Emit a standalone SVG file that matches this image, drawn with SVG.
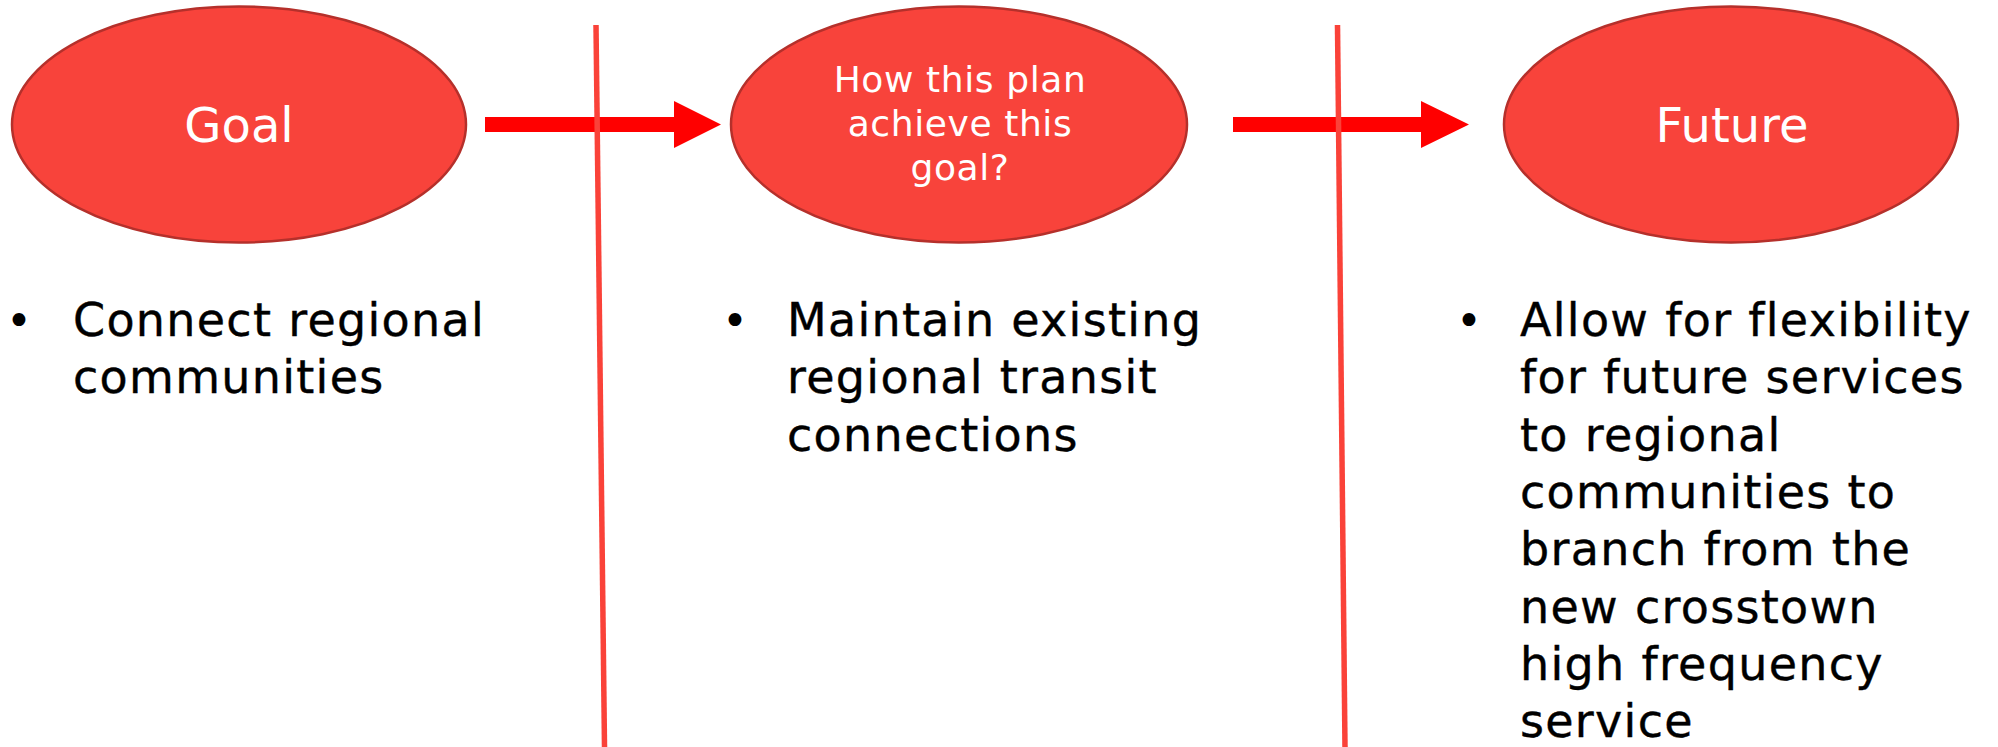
<svg xmlns="http://www.w3.org/2000/svg" width="1998" height="747" viewBox="0 0 1998 747">
  <style>
    .bubble { fill: #F8433B; stroke: #B5302B; stroke-width: 2.5; }
    .bubble-label { font-family: "DejaVu Sans", "Open Sans", sans-serif; fill: #FFFFFF; text-anchor: middle; }
    .big { font-size: 48px; }
    .small { font-size: 36px; letter-spacing: 0.6px; }
    .point { font-family: "DejaVu Sans", "Open Sans", sans-serif; font-size: 46px; fill: #000000; stroke: #000000; stroke-width: 0.4px; letter-spacing: 1.3px; }
    .dot { font-family: "DejaVu Sans", sans-serif; font-size: 44px; fill: #000000; text-anchor: middle; }
    .flow { fill: #FF0000; }
    .divider { stroke: #FA4239; stroke-width: 5.5; fill: none; }
  </style>

  <rect width="1998" height="747" fill="#FFFFFF"/>

  <!-- flow arrows between the stages -->
  <g id="connectors">
    <polygon class="flow" points="485,117 674,117 674,101 721,124.5 674,148 674,132 485,132"/>
    <polygon class="flow" points="1233,117 1421,117 1421,101 1469,124.5 1421,148 1421,132 1233,132"/>
  </g>

  <!-- column separators -->
  <g id="separators">
    <line class="divider" x1="596" y1="25" x2="604.5" y2="747"/>
    <line class="divider" x1="1337.5" y1="25" x2="1345" y2="747"/>
  </g>

  <g id="node-goal">
    <ellipse class="bubble" cx="239" cy="124.5" rx="227" ry="118"/>
    <text class="bubble-label big" x="239" y="142">Goal</text>
  </g>

  <g id="node-how">
    <ellipse class="bubble" cx="959" cy="124.5" rx="228" ry="118"/>
    <text class="bubble-label small" x="960" y="92">How this plan</text>
    <text class="bubble-label small" x="960" y="136">achieve this</text>
    <text class="bubble-label small" x="960" y="180">goal?</text>
  </g>

  <g id="node-future">
    <ellipse class="bubble" cx="1731" cy="124.5" rx="227" ry="118"/>
    <text class="bubble-label big" x="1732" y="142">Future</text>
  </g>

  <g id="notes-goal">
    <text class="dot" x="19" y="336">•</text>
    <text class="point" x="73" y="336">Connect regional</text>
    <text class="point" x="73" y="393.3">communities</text>
  </g>

  <g id="notes-how">
    <text class="dot" x="735" y="336">•</text>
    <text class="point" x="787" y="336">Maintain existing</text>
    <text class="point" x="787" y="393.3">regional transit</text>
    <text class="point" x="787" y="450.6">connections</text>
  </g>

  <g id="notes-future">
    <text class="dot" x="1469" y="336">•</text>
    <text class="point" x="1520" y="336">Allow for flexibility</text>
    <text class="point" x="1520" y="393.3">for future services</text>
    <text class="point" x="1520" y="450.6">to regional</text>
    <text class="point" x="1520" y="507.9">communities to</text>
    <text class="point" x="1520" y="565.2">branch from the</text>
    <text class="point" x="1520" y="622.5">new crosstown</text>
    <text class="point" x="1520" y="679.8">high frequency</text>
    <text class="point" x="1520" y="737.1">service</text>
  </g>
</svg>
